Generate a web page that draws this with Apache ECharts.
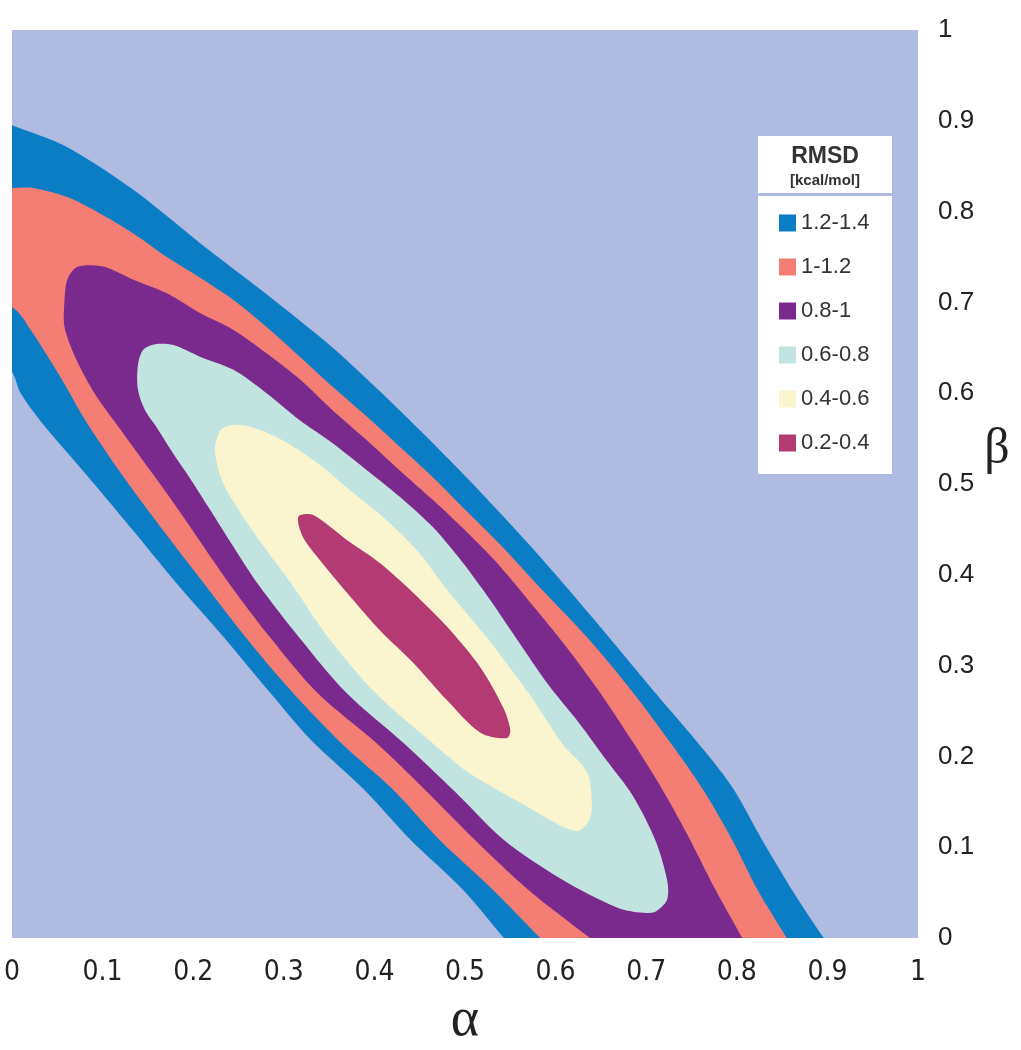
<!DOCTYPE html>
<html>
<head>
<meta charset="utf-8">
<script src="https://cdn.jsdelivr.net/npm/echarts@6/dist/echarts.min.js"></script>
<style>
  html, body { margin: 0; padding: 0; background: #fff; }
  #chart { width: 1021px; height: 1050px; }
</style>
</head>
<body>
<div id="chart"></div>
<script>
// RMSD bands, outer to inner
const bandLabels = ["1.2-1.4", "1-1.2", "0.8-1", "0.6-0.8", "0.4-0.6", "0.2-0.4"];
const bandColors = ["#0A7DC5", "#F47E74", "#7A2A8C", "#C2E4E1", "#FAF5CF", "#B43A74"];
const axisTicks = [0, 0.1, 0.2, 0.3, 0.4, 0.5, 0.6, 0.7, 0.8, 0.9, 1];

// outlines [alpha, beta]; points past 0 / 1 get clipped by the plot
const band12_14 = [
  [-0.046, 0.912], [0.0, 0.895], [0.061, 0.871], [0.134, 0.824], [0.208, 0.765], [0.281, 0.709],
  [0.354, 0.65], [0.428, 0.581], [0.502, 0.507], [0.572, 0.432], [0.638, 0.356], [0.71, 0.27],
  [0.771, 0.198], [0.797, 0.163], [0.828, 0.108], [0.861, 0.053], [0.896, 0.0], [0.936, -0.057],
  [0.592, -0.057], [0.543, 0.0], [0.498, 0.053], [0.44, 0.108], [0.389, 0.163], [0.33, 0.218],
  [0.285, 0.27], [0.234, 0.331], [0.183, 0.389], [0.136, 0.446], [0.084, 0.508], [0.031, 0.57],
  [0.009, 0.601], [0.0, 0.623], [-0.046, 0.67]
];
const band1_12 = [
  [-0.046, 0.828], [0.0, 0.826], [0.023, 0.826], [0.061, 0.816], [0.097, 0.798], [0.134, 0.776],
  [0.171, 0.75], [0.208, 0.727], [0.244, 0.703], [0.281, 0.673], [0.318, 0.64], [0.354, 0.607],
  [0.392, 0.574], [0.428, 0.541], [0.465, 0.507], [0.502, 0.47], [0.539, 0.433], [0.579, 0.39],
  [0.635, 0.331], [0.685, 0.271], [0.726, 0.216], [0.763, 0.163], [0.795, 0.108], [0.823, 0.053],
  [0.855, 0.0], [0.887, -0.057], [0.638, -0.057], [0.583, 0.0], [0.531, 0.053], [0.472, 0.108],
  [0.421, 0.163], [0.365, 0.213], [0.31, 0.27], [0.258, 0.331], [0.213, 0.389], [0.169, 0.446],
  [0.123, 0.508], [0.081, 0.57], [0.055, 0.615], [0.023, 0.666], [0.0, 0.695], [-0.046, 0.705]
];
const band08_1 = [
  [0.058, 0.703], [0.061, 0.725], [0.07, 0.738], [0.083, 0.741], [0.103, 0.739], [0.134, 0.725],
  [0.171, 0.71], [0.208, 0.688], [0.244, 0.67], [0.281, 0.644], [0.318, 0.615], [0.354, 0.581],
  [0.392, 0.548], [0.428, 0.515], [0.465, 0.482], [0.502, 0.447], [0.539, 0.409], [0.575, 0.366],
  [0.61, 0.323], [0.647, 0.273], [0.685, 0.216], [0.717, 0.165], [0.746, 0.113], [0.775, 0.056],
  [0.806, 0.0], [0.837, -0.057], [0.712, -0.057], [0.638, 0.0], [0.57, 0.053], [0.511, 0.108],
  [0.456, 0.163], [0.404, 0.213], [0.337, 0.27], [0.285, 0.331], [0.24, 0.39], [0.18, 0.477],
  [0.116, 0.565], [0.091, 0.6], [0.071, 0.637], [0.058, 0.673]
];
const band06_08 = [
  [0.139, 0.631], [0.145, 0.648], [0.158, 0.654], [0.178, 0.653], [0.208, 0.64], [0.244, 0.626],
  [0.281, 0.6], [0.318, 0.57], [0.354, 0.545], [0.392, 0.515], [0.428, 0.486], [0.465, 0.452],
  [0.497, 0.414], [0.528, 0.372], [0.558, 0.328], [0.592, 0.279], [0.625, 0.238], [0.656, 0.196],
  [0.685, 0.157], [0.71, 0.108], [0.723, 0.064], [0.723, 0.042], [0.71, 0.029], [0.693, 0.028],
  [0.667, 0.034], [0.608, 0.064], [0.543, 0.108], [0.489, 0.161], [0.434, 0.213], [0.369, 0.27],
  [0.317, 0.331], [0.272, 0.389], [0.243, 0.433], [0.219, 0.471], [0.196, 0.507], [0.177, 0.535],
  [0.16, 0.562], [0.147, 0.581], [0.139, 0.604]
];
const band04_06 = [
  [0.23, 0.559], [0.244, 0.565], [0.263, 0.563], [0.299, 0.548], [0.337, 0.523], [0.373, 0.493],
  [0.409, 0.464], [0.447, 0.427], [0.479, 0.385], [0.524, 0.331], [0.57, 0.27], [0.608, 0.213],
  [0.635, 0.182], [0.64, 0.144], [0.636, 0.128], [0.625, 0.118], [0.605, 0.124], [0.57, 0.144],
  [0.504, 0.182], [0.466, 0.213], [0.401, 0.27], [0.349, 0.331], [0.307, 0.392], [0.281, 0.427],
  [0.255, 0.464], [0.233, 0.501], [0.224, 0.537]
];
const band02_04 = [
  [0.316, 0.464], [0.332, 0.466], [0.37, 0.438], [0.406, 0.413], [0.443, 0.38], [0.48, 0.343],
  [0.517, 0.298], [0.542, 0.254], [0.55, 0.229], [0.546, 0.22], [0.517, 0.226], [0.48, 0.262],
  [0.443, 0.303], [0.406, 0.339], [0.37, 0.38], [0.34, 0.416], [0.321, 0.442]
];
const bandOutlines = [band12_14, band1_12, band08_1, band06_08, band04_06, band02_04];

const tickLabel = (v) => {
  const t = axisTicks.find((k) => Math.abs(k - v) < 1e-6);
  return t === undefined ? "" : String(t);
};

const makeBandSeries = (i) => {
  const outline = bandOutlines[i];
  return {
    type: "custom",
    name: bandLabels[i],
    coordinateSystem: "cartesian2d",
    itemStyle: { color: bandColors[i] },
    silent: true,
    data: [outline[0]],
    renderItem: function (params, api) {
      const cs = params.coordSys;
      const pts = outline.map((p) => api.coord(p));
      return {
        type: "polygon",
        shape: { points: pts, smooth: 0.3 },
        style: { fill: bandColors[i], stroke: null },
        clipPath: {
          type: "rect",
          shape: { x: cs.x, y: cs.y, width: cs.width, height: cs.height }
        }
      };
    }
  };
};

const getOption = () => {
  return {
    animation: false,
    backgroundColor: "#fff",
    grid: {
      left: 12,
      right: 103,
      top: 30,
      bottom: 112,
      outerBoundsMode: "none",
      containLabel: false,
      show: true,
      backgroundColor: "#AFBBE0",
      borderWidth: 0
    },
    xAxis: {
      type: "value",
      min: 0,
      max: 1,
      interval: 0.1,
      name: "α",
      nameLocation: "middle",
      nameGap: 56,
      nameTextStyle: { fontFamily: "Liberation Serif", fontSize: 54, color: "#222" },
      axisLine: { show: false },
      axisTick: { show: false },
      splitLine: { show: false },
      axisLabel: {
        margin: 21,
        fontFamily: "'Liberation Sans Narrow', 'DejaVu Sans Condensed', 'Roboto Condensed', sans-serif",
        fontSize: 28,
        color: "#222",
        formatter: tickLabel
      }
    },
    yAxis: {
      type: "value",
      position: "right",
      min: 0,
      max: 1,
      interval: 0.1,
      axisLine: { show: false },
      axisTick: { show: false },
      splitLine: { show: false },
      axisLabel: {
        margin: 20,
        fontFamily: "'Liberation Sans', sans-serif",
        fontSize: 26,
        color: "#222",
        formatter: tickLabel
      }
    },
    legend: {
      data: bandLabels,
      orient: "vertical",
      left: 779,
      top: 212,
      padding: 0,
      itemWidth: 17,
      itemHeight: 17,
      itemGap: 22,
      icon: "rect",
      selectedMode: false,
      textStyle: {
        fontFamily: "'Liberation Sans', sans-serif",
        fontSize: 22,
        lineHeight: 22,
        color: "#333"
      },
      z: 20
    },
    graphic: [
      {
        type: "rect",
        left: 758,
        top: 136,
        shape: { width: 134, height: 57 },
        style: { fill: "#fff" },
        z: 10
      },
      {
        type: "rect",
        left: 758,
        top: 196,
        shape: { width: 134, height: 278 },
        style: { fill: "#fff" },
        z: 10
      },
      {
        type: "text",
        x: 825,
        y: 157,
        style: {
          text: "RMSD",
          fontFamily: "'Liberation Sans', sans-serif",
          fontWeight: "bold",
          fontSize: 23,
          fill: "#333",
          align: "center",
          verticalAlign: "middle"
        },
        z: 11
      },
      {
        type: "text",
        x: 825,
        y: 181,
        style: {
          text: "[kcal/mol]",
          fontFamily: "'Liberation Sans', sans-serif",
          fontWeight: "bold",
          fontSize: 15,
          fill: "#333",
          align: "center",
          verticalAlign: "middle"
        },
        z: 11
      },
      {
        type: "text",
        x: 997,
        y: 450,
        style: {
          text: "β",
          fontFamily: "Liberation Serif",
          fontSize: 50,
          fill: "#222",
          align: "center",
          verticalAlign: "middle"
        },
        z: 11
      }
    ],
    series: bandLabels.map((_, i) => makeBandSeries(i))
  };
};

const initChart = () => {
  const chart = echarts.init(document.getElementById("chart"), null, { renderer: "canvas" });
  chart.setOption(getOption());
};

window.addEventListener("load", () => {
  initChart();
});
</script>
</body>
</html>
